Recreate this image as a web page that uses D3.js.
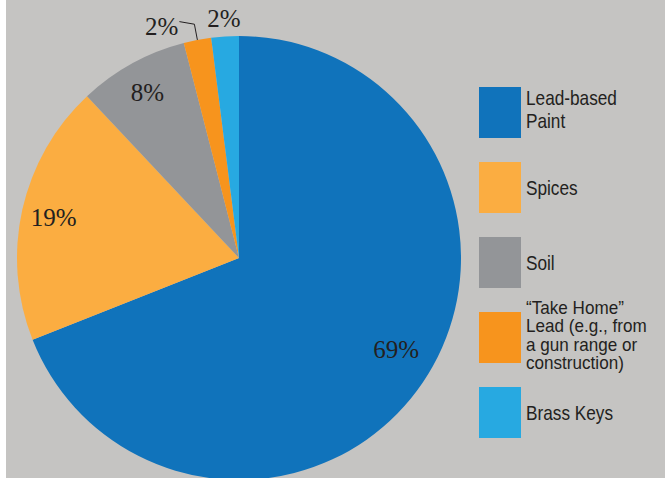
<!DOCTYPE html>
<html>
<head>
<meta charset="utf-8">
<script src="https://cdn.jsdelivr.net/npm/d3@7"></script>
<style>
  body { margin: 0; background: #fff; }
</style>
</head>
<body>
<div class="chart"></div>
<script>
// data
const categories = ["Lead-based Paint", "Spices", "Soil", "Take Home Lead", "Brass Keys"];
const values = [69, 19, 8, 2, 2];
const percentLabels = ["69%", "19%", "8%", "2%", "2%"];
const legendLines = [
  ["Lead-based", "Paint"],
  ["Spices"],
  ["Soil"],
  ["\u201CTake Home\u201D", "Lead (e.g., from", "a gun range or", "construction)"],
  ["Brass Keys"]
];

function init(){

  const w = 665, h = 478;
  const cx = 239, cy = 258, r = 222;

  const color = d3.scaleOrdinal()
    .domain(categories)
    .range(["#1073bb", "#fbad41", "#939598", "#f7941d", "#27a9e1"]);

  const svg = d3.select(".chart").append("svg")
    .attr("width", w).attr("height", h)
    .style("display", "block");

  // gray panel, thin white strip on the left
  svg.append("rect")
    .attr("x", 6).attr("y", 0)
    .attr("width", w - 6).attr("height", h)
    .attr("fill", "#c5c4c2");

  const pie = d3.pie().sort(null).value(d => d.value);
  const arcs = pie(categories.map((c, i) => ({ name: c, value: values[i], label: percentLabels[i] })));

  const arc = d3.arc().innerRadius(0).outerRadius(r);
  const labelArc = d3.arc().innerRadius(190).outerRadius(190);

  const g = svg.append("g").attr("transform", `translate(${cx},${cy})`);

  g.selectAll("path")
    .data(arcs)
    .join("path")
    .attr("d", arc)
    .attr("fill", d => color(d.data.name));

  const mid = d => (d.startAngle + d.endAngle) / 2;
  const serif = "'Liberation Serif', 'Times New Roman', serif";

  // labels inside the big slices (the big one sits a bit higher)
  g.selectAll(".inside")
    .data(arcs.filter(d => d.data.value > 5))
    .join("text")
    .attr("class", "inside")
    .attr("x", d => labelArc.centroid(d)[0])
    .attr("y", d => labelArc.centroid(d)[1] + 9 - (d.data.value > 50 ? 16 : 0))
    .attr("text-anchor", "middle")
    .style("font-family", serif)
    .style("font-size", "25px")
    .attr("fill", "#231f20")
    .text(d => d.data.label);

  // small slices: brass keys label straight out, take home label with leader line
  const small = arcs.filter(d => d.data.value <= 5);
  const brass = small[1], takeHome = small[0];

  const pb = d3.pointRadial(mid(brass), r + 17);
  g.append("text")
    .attr("x", pb[0]).attr("y", pb[1] + 8)
    .attr("text-anchor", "middle")
    .style("font-family", serif)
    .style("font-size", "25px")
    .attr("fill", "#231f20")
    .text(brass.data.label);

  const p0 = d3.pointRadial(mid(takeHome), r);
  const p1 = d3.pointRadial(mid(takeHome), r + 16);
  const p2 = [p1[0] - 15, p1[1] - 2.6];
  g.append("path")
    .attr("d", d3.line()([p0, p1, p2]))
    .attr("fill", "none")
    .attr("stroke", "#231f20")
    .attr("stroke-width", 1);

  g.append("text")
    .attr("x", p2[0] - 1).attr("y", p2[1] + 13)
    .attr("text-anchor", "end")
    .style("font-family", serif)
    .style("font-size", "25px")
    .attr("fill", "#231f20")
    .text(takeHome.data.label);

  // legend
  const legendY = d3.scaleBand()
    .domain(categories)
    .range([87, 87 + 75 * categories.length - 24])
    .paddingInner(24 / 75);

  const item = svg.append("g").attr("class", "legend")
    .selectAll("g")
    .data(categories)
    .join("g");

  item.append("rect")
    .attr("x", 479)
    .attr("y", d => legendY(d))
    .attr("width", 42)
    .attr("height", legendY.bandwidth())
    .attr("fill", d => color(d));

  item.each(function(d, i){
    const lines = legendLines[i];
    const dense = lines.length > 2;
    const lh = dense ? 18.4 : 22.7;
    const center = legendY(d) + legendY.bandwidth() / 2;
    const first = center + (lines.length > 1 ? 4 : 7.5) - (lines.length - 1) * lh / 2;
    const t = d3.select(this).append("g")
      .attr("transform", `translate(526,${first}) scale(${dense ? 0.95 : 0.82},1)`)
      .append("text")
      .style("font-family", "'Liberation Sans', Arial, sans-serif")
      .style("font-size", dense ? "18px" : "21px")
      .attr("fill", "#231f20");
    t.selectAll("tspan")
      .data(lines)
      .join("tspan")
      .attr("x", 0)
      .attr("y", (l, j) => j * lh)
      .text(l => l);
  });
}
window.onload = init;
</script>
</body>
</html>
